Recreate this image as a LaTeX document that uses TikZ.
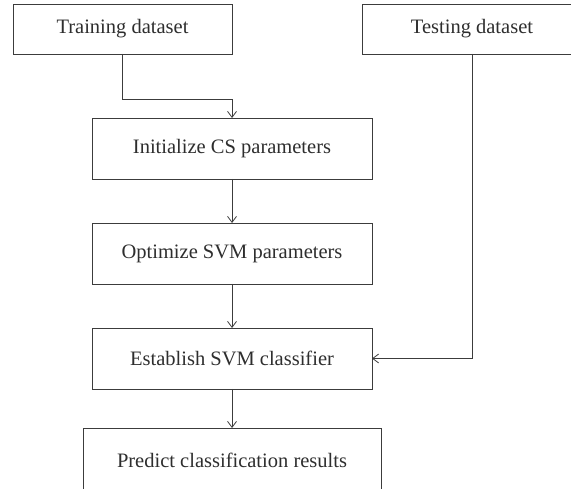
\documentclass[tikz,border=0pt]{standalone}
\usepackage{fontspec}
\setmainfont{Liberation Serif}
\usetikzlibrary{positioning,arrows.meta}
\definecolor{linegray}{HTML}{3C3C3C}
\definecolor{textgray}{HTML}{2E2E2E}
\tikzset{
  flowbox/.style  = {shape=rectangle, draw=linegray, line width=0.8pt,
                     align=center, inner sep=0pt, outer sep=0pt,
                     text=textgray, font=\fontsize{20.5}{24}\selectfont},
  databox/.style  = {flowbox, minimum width=219pt, minimum height=50pt},
  stepbox/.style  = {flowbox, minimum width=280pt, minimum height=61pt},
  endbox/.style   = {flowbox, minimum width=298pt, minimum height=64pt},
  flow/.style     = {draw=linegray, line width=0.8pt,
                     -{Straight Barb[length=6pt,width=9pt,line width=0.8pt]}}
}

\begin{document}
\begin{tikzpicture}
  [
    x=1pt, y=-1pt,
    node distance=44pt
  ]
  \clip (0,0) rectangle (571,489);
  % inputs
  \node [databox] (train) at (122.5,29) {Training dataset};
  \node [databox] (test)  at (472,29)   {Testing dataset};
  % main column
  \node [stepbox] (init) at (232,148.5) {Initialize CS parameters};
  \node [stepbox, below=of init] (opt) {Optimize SVM parameters};
  \node [stepbox, below=of opt]  (est) {Establish SVM classifier};
  \node [endbox, below=39pt of est] (pred) {Predict classification results};
  % connectors
  \draw [flow] (train.south) -- ++(0,45) -| (init.north);
  \draw [flow] (init) -- (opt);
  \draw [flow] (opt) -- (est);
  \draw [flow] (test.south) |- (est.east);
  \draw [flow] (est) -- (pred);
\end{tikzpicture}
\end{document}
